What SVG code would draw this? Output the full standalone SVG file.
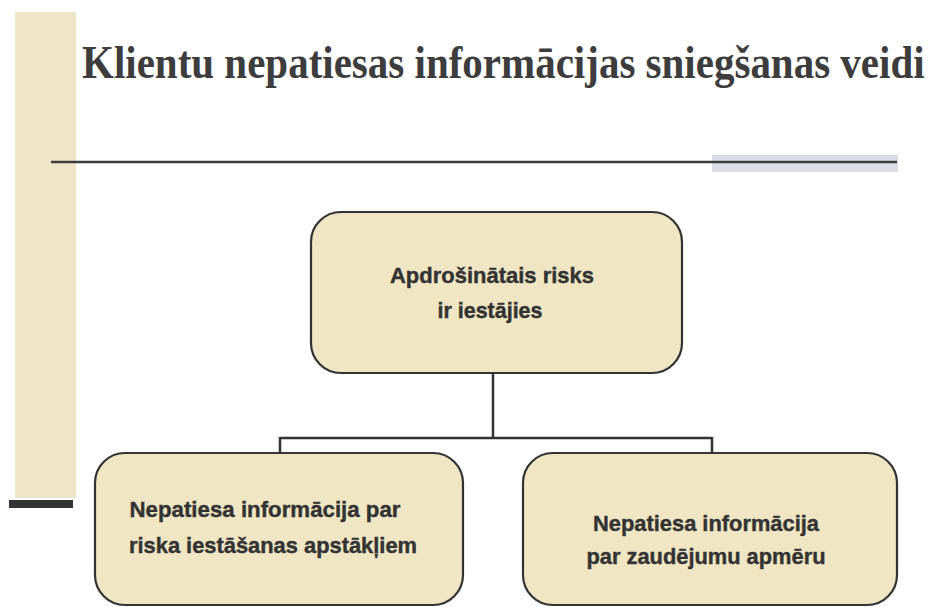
<svg xmlns="http://www.w3.org/2000/svg" width="936" height="608" viewBox="0 0 936 608">
<style>
.box{fill:#f0e6c3;stroke:#333;stroke-width:2.2}
.t{font-family:"Liberation Sans",Arial,sans-serif;font-weight:bold;font-size:22px;fill:#333;stroke:#333;stroke-width:0.4;text-anchor:middle}
.conn{fill:none;stroke:#333;stroke-width:2.5}
</style>
<rect x="0" y="0" width="936" height="608" fill="#ffffff"/>
<rect x="15" y="12" width="61" height="486" fill="#efe6c8"/>
<rect x="9" y="500" width="64" height="8" fill="#333"/>
<rect x="712" y="155" width="186" height="17" fill="#dcdce6"/>
<line x1="51" y1="162" x2="897" y2="162" stroke="#3c3c3c" stroke-width="2.5"/>
<text transform="translate(82,78) scale(1,1.15)" x="0" y="0" font-family="'Liberation Serif','Times New Roman',serif" font-weight="bold" font-size="41" fill="#3d3d3d">Klientu nepatiesas informācijas sniegšanas veidi</text>
<g id="connectors">
<path class="conn" d="M493 373 V438 M280 438 H712 M280 437 V454 M712 437 V454"/>
</g>
<g id="node-top">
<rect class="box" x="311" y="212" width="371" height="161" rx="30"/>
<text class="t" x="492" y="283" textLength="204" lengthAdjust="spacingAndGlyphs">Apdrošinātais risks</text>
<text class="t" x="490" y="318" textLength="105" lengthAdjust="spacingAndGlyphs">ir iestājies</text>
</g>
<g id="node-left">
<rect class="box" x="95" y="453" width="368" height="152" rx="30"/>
<text class="t" x="265" y="517" textLength="271" lengthAdjust="spacingAndGlyphs">Nepatiesa informācija par</text>
<text class="t" x="273" y="553" textLength="288" lengthAdjust="spacingAndGlyphs">riska iestāšanas apstākļiem</text>
</g>
<g id="node-right">
<rect class="box" x="523" y="453" width="374" height="152" rx="30"/>
<text class="t" x="706" y="531" textLength="226" lengthAdjust="spacingAndGlyphs">Nepatiesa informācija</text>
<text class="t" x="706" y="564" textLength="239" lengthAdjust="spacingAndGlyphs">par zaudējumu apmēru</text>
</g>
</svg>
